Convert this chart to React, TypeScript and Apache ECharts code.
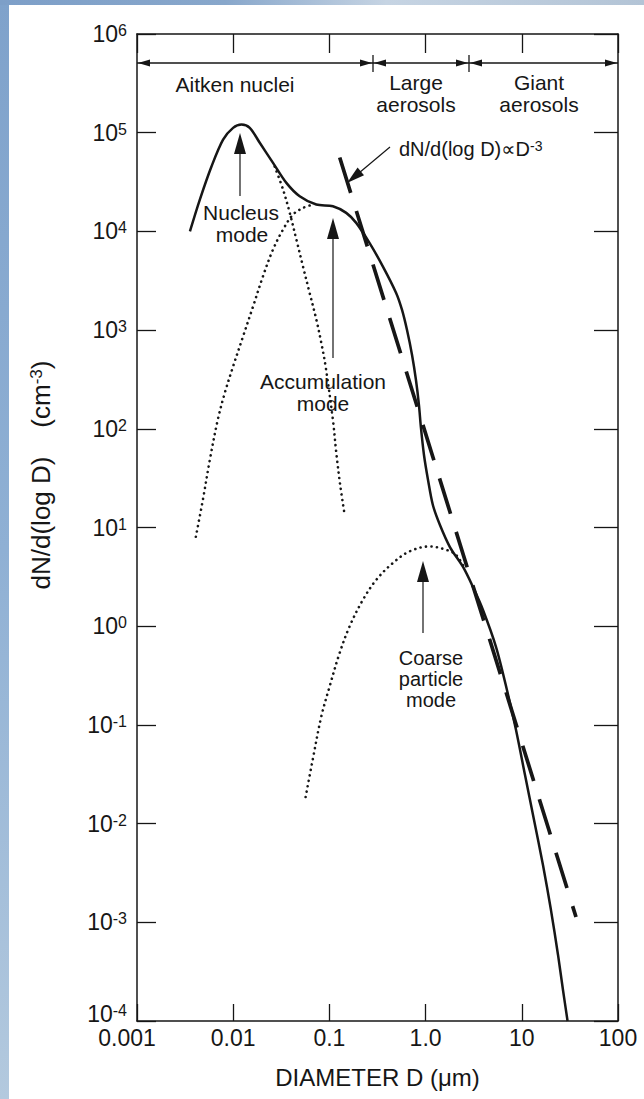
import React, { useEffect, useRef } from "react";
import * as echarts from "echarts";

// ---- axis ticks ----
const xTickLabels = ["0.001", "0.01", "0.1", "1.0", "10", "100"];
const xMin = 0.001;
const xMax = 100;
const yMin = 1e-4;
const yMax = 1e6;

// ---- total (solid) size distribution ----
const totalD = [0.00355, 0.0045, 0.00596, 0.00785, 0.00997, 0.0122, 0.01486, 0.01888, 0.02594, 0.0357, 0.0491, 0.0731, 0.1087, 0.1496, 0.19, 0.261, 0.359, 0.494, 0.569, 0.641, 0.723, 0.794, 0.853, 0.895, 0.962, 1.06, 1.19, 1.41, 1.79, 2.45, 3.11, 3.95, 5.4, 7.01, 8.71, 10.8, 13.4, 16.6, 20.1, 23.8, 26.8, 29.9];
const totalN = [1.0e4, 2.1e4, 4.57e4, 8.5e4, 1.12e5, 1.21e5, 1.12e5, 7.9e4, 4.95e4, 3.1e4, 2.27e4, 1.87e4, 1.8e4, 1.54e4, 1.22e4, 7640, 4430, 2380, 1600, 1000, 560, 312, 174, 102, 54.3, 30.3, 16.9, 10.6, 6.34, 3.98, 2.49, 1.46, 0.615, 0.226, 0.0887, 0.031, 0.0109, 0.00381, 0.00133, 4.67e-4, 2.06e-4, 1e-4];

// ---- nucleus mode (dotted, right tail) ----
const nucleusD = [0.027, 0.033, 0.0387, 0.0454, 0.0531, 0.0623, 0.0731, 0.0824, 0.0913, 0.1087, 0.118, 0.13, 0.144];
const nucleusN = [4.54e4, 2.65e4, 1.54e4, 8260, 4430, 2380, 1280, 741, 429, 124, 56.9, 26.1, 13.5];

// ---- accumulation mode (dotted, left side) ----
const accumD = [0.00409, 0.00484, 0.00572, 0.00692, 0.00818, 0.00998, 0.01267, 0.0161, 0.0204, 0.0259, 0.0329, 0.0418, 0.0532, 0.0675];
const accumN = [8.05, 19.1, 48.6, 124, 231, 429, 865, 1740, 3510, 6530, 1.04e4, 1.48e4, 1.73e4, 1.87e4];

// ---- coarse particle mode (dotted) ----
const coarseD = [0.0566, 0.067, 0.0824, 0.1005, 0.1276, 0.162, 0.223, 0.307, 0.456, 0.679, 1.094, 1.63, 2.07, 2.59];
const coarseN = [0.0186, 0.0442, 0.1216, 0.245, 0.533, 0.993, 1.85, 2.95, 4.36, 5.72, 6.43, 5.95, 5.29, 3.73];

// ---- D^-3 power law (dashed), end points ----
const powerD = [0.128, 36.6];
const powerN = [5.6e4, 1.13e-3];

const INK = "#161616";
const FONT = "'Liberation Sans', Arial, Helvetica, 'DejaVu Sans', sans-serif";

const pairs = (xs: number[], ys: number[]) => xs.map((x, i) => [x, ys[i]]);

function arrow(x1: number, y1: number, x2: number, y2: number, len: number, hw: number, w: number) {
  const dx = x2 - x1;
  const dy = y2 - y1;
  const L = Math.hypot(dx, dy);
  const ux = dx / L;
  const uy = dy / L;
  const bx = x2 - ux * len;
  const by = y2 - uy * len;
  const nx = -uy * hw;
  const ny = ux * hw;
  return [
    { type: "line", silent: true, shape: { x1, y1, x2: bx + ux * 2, y2: by + uy * 2 }, style: { stroke: INK, lineWidth: w } },
    { type: "polygon", silent: true, shape: { points: [[x2, y2], [bx + nx, by + ny], [bx - nx, by - ny]] }, style: { fill: INK } },
  ];
}

function head(tx: number, ty: number, dir: number) {
  const len = 12;
  const hw = 3.5;
  return {
    type: "polygon",
    silent: true,
    shape: { points: [[tx, ty], [tx - dir * len, ty - hw], [tx - dir * len, ty + hw]] },
    style: { fill: INK },
  };
}

function txt(text: string, x: number, y: number, size = 21, align = "center") {
  return {
    type: "text",
    silent: true,
    x,
    y,
    style: {
      text,
      fontSize: size,
      fontFamily: FONT,
      fill: INK,
      align,
      textAlign: align,
      verticalAlign: "middle",
      textVerticalAlign: "middle",
    },
  };
}

function buildOption() {
  const dotted = (data: number[][]) => ({
    type: "line",
    data,
    showSymbol: false,
    symbol: "none",
    smooth: 0.35,
    silent: true,
    lineStyle: { color: INK, width: 2.6, type: [0.1, 5.4], cap: "round" },
  });

  const graphic: any[] = [
    // blue frame strips
    {
      type: "rect",
      silent: true,
      shape: { x: 0, y: 0, width: 9, height: 1099 },
      style: {
        fill: new echarts.graphic.LinearGradient(0, 0, 0, 1, [
          { offset: 0, color: "#7fa2cb" },
          { offset: 0.5, color: "#8fb0d4" },
          { offset: 1, color: "#b3c9de" },
        ]),
      },
    },
    {
      type: "rect",
      silent: true,
      shape: { x: 0, y: 0, width: 644, height: 5 },
      style: {
        fill: new echarts.graphic.LinearGradient(0, 0, 1, 0, [
          { offset: 0, color: "#7d9fc8" },
          { offset: 0.35, color: "#88a7cb" },
          { offset: 0.6, color: "#c6d4e3" },
          { offset: 1, color: "#b3c4d6" },
        ]),
      },
    },
    // size class bar
    { type: "line", silent: true, shape: { x1: 137, y1: 63, x2: 618, y2: 63 }, style: { stroke: INK, lineWidth: 1.3 } },
    { type: "line", silent: true, shape: { x1: 373, y1: 55, x2: 373, y2: 72 }, style: { stroke: INK, lineWidth: 1.3 } },
    { type: "line", silent: true, shape: { x1: 469, y1: 55, x2: 469, y2: 72 }, style: { stroke: INK, lineWidth: 1.3 } },
    head(138, 63, -1),
    head(372, 63, 1),
    head(374, 63, -1),
    head(468, 63, 1),
    head(470, 63, -1),
    head(617, 63, 1),
    txt("Aitken nuclei", 235, 84),
    txt("Large", 416, 82),
    txt("aerosols", 416, 104),
    txt("Giant", 539, 82),
    txt("aerosols", 539, 104),
    // mode annotations
    ...arrow(240, 196, 240, 133, 21, 6, 1.2),
    txt("Nucleus", 241, 212),
    txt("mode", 242, 234),
    ...arrow(333, 358, 333, 218, 21, 6, 1.2),
    txt("Accumulation", 323, 381),
    txt("mode", 323, 403),
    ...arrow(423, 633, 423, 561, 21, 6, 1.2),
    txt("Coarse", 431, 658, 20),
    txt("particle", 431, 679, 20),
    txt("mode", 431, 700, 20),
    ...arrow(390, 147, 347, 183, 18, 5, 1.2),
    {
      type: "text",
      silent: true,
      x: 399,
      y: 149,
      style: {
        text: "dN/d(log D)\u221DD{s|-3}",
        fontSize: 20,
        fontFamily: FONT,
        fill: INK,
        align: "left",
        textAlign: "left",
        verticalAlign: "middle",
        textVerticalAlign: "middle",
        rich: { s: { fontSize: 14, fontFamily: FONT, fill: INK, verticalAlign: "top" } },
      },
    },
    // y axis title
    {
      type: "text",
      silent: true,
      x: 41,
      y: 475,
      rotation: Math.PI / 2,
      style: {
        text: "dN/d(log D)    (cm{s|-3})",
        fontSize: 26,
        fontFamily: FONT,
        fill: INK,
        align: "center",
        textAlign: "center",
        verticalAlign: "middle",
        textVerticalAlign: "middle",
        rich: { s: { fontSize: 17, fontFamily: FONT, fill: INK, verticalAlign: "top" } },
      },
    },
  ];

  const axisLine = { show: true, onZero: false, lineStyle: { color: INK, width: 1.5 } };

  return {
    animation: false,
    backgroundColor: "#ffffff",
    grid: { left: 137, right: 26, top: 34, bottom: 78, containLabel: false, outerBoundsMode: "none" },
    xAxis: [
      {
        type: "log",
        logBase: 10,
        min: xMin,
        max: xMax,
        position: "bottom",
        axisLine,
        axisTick: { show: true, inside: true, length: 17, lineStyle: { color: INK, width: 1.3 } },
        minorTick: { show: false },
        splitLine: { show: false },
        axisLabel: {
          show: true,
          margin: 5,
          fontSize: 23,
          fontFamily: FONT,
          color: INK,
          showMinLabel: true,
          showMaxLabel: true,
          formatter: (v: number) => {
            const i = Math.round(Math.log10(v)) + 3;
            const t = xTickLabels[i] ?? "";
            return i === 0 ? `{f|${t}}` : `{n|${t}}`;
          },
          rich: {
            n: { fontSize: 23, fontFamily: FONT, color: INK },
            f: { fontSize: 23, fontFamily: FONT, color: INK, padding: [0, 20, 0, 0] },
          },
        },
        name: "DIAMETER D (\u03BCm)",
        nameLocation: "middle",
        nameGap: 44,
        nameTextStyle: { fontSize: 24, fontFamily: FONT, color: INK },
      },
      {
        type: "log",
        logBase: 10,
        min: xMin,
        max: xMax,
        position: "top",
        axisLine,
        axisTick: { show: true, inside: true, length: 19, lineStyle: { color: INK, width: 1.3 } },
        minorTick: { show: false },
        splitLine: { show: false },
        axisLabel: { show: false },
      },
    ],
    yAxis: [
      {
        type: "log",
        logBase: 10,
        min: yMin,
        max: yMax,
        interval: 1,
        splitNumber: 10,
        position: "left",
        axisLine,
        axisTick: { show: true, inside: true, length: 19, lineStyle: { color: INK, width: 1.3 } },
        minorTick: { show: false },
        splitLine: { show: false },
        axisLabel: {
          show: true,
          margin: 10,
          fontSize: 23,
          fontFamily: FONT,
          color: INK,
          showMinLabel: true,
          showMaxLabel: true,
          formatter: (v: number) => {
            const e = Math.round(Math.log10(v));
            return e === -4 ? `{bl|10}{sl|${e}}` : `{b|10}{s|${e}}`;
          },
          rich: {
            b: { fontSize: 23, fontFamily: FONT, color: INK },
            s: { fontSize: 16, fontFamily: FONT, color: INK, verticalAlign: "top" },
            bl: { fontSize: 23, fontFamily: FONT, color: INK, padding: [0, 0, 14, 0] },
            sl: { fontSize: 16, fontFamily: FONT, color: INK, verticalAlign: "top" },
          },
        },
      },
      {
        type: "log",
        logBase: 10,
        min: yMin,
        max: yMax,
        interval: 1,
        splitNumber: 10,
        position: "right",
        axisLine,
        axisTick: { show: true, inside: true, length: 24, lineStyle: { color: INK, width: 1.3 } },
        minorTick: { show: false },
        splitLine: { show: false },
        axisLabel: { show: false },
      },
    ],
    series: [
      {
        type: "line",
        name: "total",
        data: pairs(totalD, totalN),
        showSymbol: false,
        symbol: "none",
        smooth: 0.3,
        silent: true,
        lineStyle: { color: INK, width: 2.5 },
        z: 3,
      },
      { ...dotted(pairs(nucleusD, nucleusN)), name: "nucleus" },
      { ...dotted(pairs(accumD, accumN)), name: "accumulation" },
      { ...dotted(pairs(coarseD, coarseN)), name: "coarse" },
      {
        type: "line",
        name: "power law",
        data: pairs(powerD, powerN),
        showSymbol: false,
        symbol: "none",
        silent: true,
        lineStyle: { color: INK, width: 3.7, type: [37, 19] },
        z: 4,
      },
    ],
    graphic,
  };
}

export default function App() {
  const ref = useRef<HTMLDivElement>(null);
  useEffect(() => {
    if (!ref.current) return;
    const chart = echarts.init(ref.current, null, { renderer: "svg" });
    chart.setOption(buildOption() as any);
    return () => chart.dispose();
  }, []);
  return (
    <div
      ref={ref}
      style={{ position: "absolute", left: 0, top: 0, width: 644, height: 1099, background: "#fff" }}
    />
  );
}
